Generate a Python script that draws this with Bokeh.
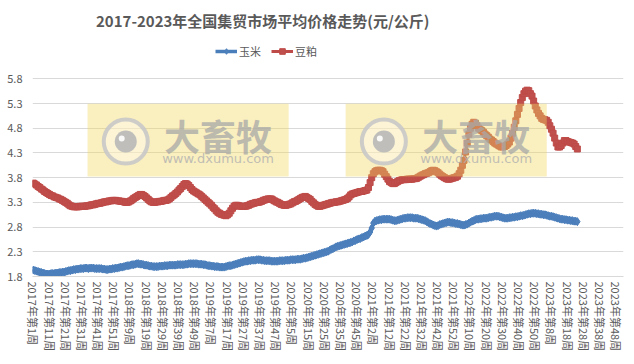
from bokeh.plotting import figure
from bokeh.models import Range1d, FixedTicker, Label, Legend, LegendItem
from bokeh.core.properties import value
from bokeh.embed import file_html
from bokeh.resources import INLINE

# ---------------- data ----------------
title_text = "2017-2023年全国集贸市场平均价格走势(元/公斤)"
series_names = ["玉米", "豆粕"]
weeks_per_year = [(2017, 52), (2018, 52), (2019, 52), (2020, 53), (2021, 52), (2022, 52), (2023, 52)]
categories = [f"{y}年第{w}周" for y, n in weeks_per_year for w in range(1, n + 1)]
y_ticks = [1.8, 2.3, 2.8, 3.3, 3.8, 4.3, 4.8, 5.3, 5.8]

corn_2017 = [1.93, 1.92, 1.91, 1.90, 1.89, 1.88, 1.87, 1.86, 1.85, 1.85, 1.85, 1.86, 1.86, 1.86, 1.87, 1.87,
             1.88, 1.88, 1.89, 1.89, 1.90, 1.91, 1.92, 1.92, 1.93, 1.94, 1.94, 1.95, 1.95, 1.96, 1.96, 1.96,
             1.97, 1.97, 1.96, 1.97, 1.97, 1.97, 1.96, 1.96, 1.96, 1.96, 1.96, 1.95, 1.95, 1.94, 1.94, 1.95,
             1.95, 1.96, 1.96, 1.97]
corn_2018 = [1.97, 1.98, 1.99, 1.99, 2.00, 2.01, 2.02, 2.02, 2.03, 2.04, 2.04, 2.05, 2.06, 2.06, 2.05, 2.05,
             2.04, 2.03, 2.03, 2.02, 2.01, 2.01, 2.00, 2.00, 2.00, 2.00, 2.01, 2.01, 2.01, 2.02, 2.02, 2.02,
             2.03, 2.03, 2.03, 2.03, 2.03, 2.04, 2.04, 2.04, 2.04, 2.04, 2.05, 2.05, 2.06, 2.06, 2.06, 2.06,
             2.06, 2.06, 2.05, 2.05]
corn_2019 = [2.05, 2.04, 2.04, 2.03, 2.02, 2.02, 2.01, 2.01, 2.00, 2.00, 2.00, 1.99, 1.99, 1.99, 1.99, 2.00,
             2.01, 2.02, 2.02, 2.03, 2.04, 2.05, 2.06, 2.07, 2.08, 2.09, 2.10, 2.11, 2.11, 2.12, 2.12, 2.13,
             2.13, 2.13, 2.14, 2.14, 2.14, 2.13, 2.13, 2.12, 2.12, 2.12, 2.12, 2.11, 2.11, 2.11, 2.11, 2.11,
             2.12, 2.12, 2.12, 2.12]
corn_2020 = [2.13, 2.13, 2.13, 2.14, 2.14, 2.14, 2.14, 2.15, 2.15, 2.15, 2.16, 2.17, 2.17, 2.18, 2.19, 2.20,
             2.21, 2.22, 2.23, 2.24, 2.25, 2.26, 2.27, 2.28, 2.29, 2.30, 2.31, 2.33, 2.35, 2.36, 2.38, 2.40,
             2.41, 2.42, 2.43, 2.44, 2.45, 2.46, 2.47, 2.48, 2.49, 2.50, 2.52, 2.53, 2.55, 2.56, 2.57, 2.59,
             2.60, 2.62, 2.63, 2.65, 2.70]
corn_2021 = [2.78, 2.88, 2.92, 2.93, 2.94, 2.95, 2.95, 2.96, 2.96, 2.96, 2.96, 2.96, 2.95, 2.94, 2.93, 2.93,
             2.94, 2.95, 2.96, 2.97, 2.98, 2.98, 2.99, 2.99, 2.99, 2.99, 2.98, 2.98, 2.98, 2.97, 2.96, 2.95,
             2.94, 2.93, 2.91, 2.89, 2.87, 2.86, 2.84, 2.83, 2.82, 2.83, 2.85, 2.86, 2.87, 2.88, 2.89, 2.90,
             2.90, 2.89, 2.89, 2.88]
corn_2022 = [2.87, 2.87, 2.86, 2.85, 2.84, 2.84, 2.85, 2.86, 2.88, 2.90, 2.92, 2.93, 2.95, 2.96, 2.96, 2.97,
             2.97, 2.98, 2.98, 2.98, 2.99, 3.00, 3.00, 3.01, 3.02, 3.02, 3.02, 3.01, 3.00, 2.99, 2.98, 2.98,
             2.98, 2.99, 2.99, 3.00, 3.00, 3.01, 3.01, 3.02, 3.03, 3.03, 3.04, 3.05, 3.06, 3.07, 3.07, 3.08,
             3.08, 3.08, 3.07, 3.07]
corn_2023 = [3.06, 3.06, 3.05, 3.05, 3.04, 3.03, 3.02, 3.02, 3.01, 3.00, 2.99, 2.98, 2.97, 2.96, 2.96, 2.95,
             2.95, 2.94, 2.94, 2.93, 2.93, 2.92, 2.92, 2.91]

soy_2017 = [3.69, 3.67, 3.65, 3.62, 3.60, 3.57, 3.55, 3.52, 3.50, 3.48, 3.46, 3.44, 3.43, 3.41, 3.40, 3.39,
            3.37, 3.36, 3.34, 3.32, 3.30, 3.28, 3.25, 3.23, 3.22, 3.21, 3.21, 3.21, 3.21, 3.22, 3.22, 3.22,
            3.22, 3.23, 3.23, 3.24, 3.25, 3.25, 3.26, 3.27, 3.28, 3.28, 3.29, 3.30, 3.31, 3.31, 3.32, 3.33,
            3.33, 3.34, 3.34, 3.34]
soy_2018 = [3.33, 3.33, 3.32, 3.32, 3.31, 3.30, 3.30, 3.31, 3.33, 3.35, 3.38, 3.40, 3.42, 3.44, 3.46, 3.46,
            3.44, 3.42, 3.39, 3.36, 3.33, 3.31, 3.30, 3.30, 3.31, 3.31, 3.32, 3.32, 3.33, 3.34, 3.34, 3.35,
            3.37, 3.40, 3.43, 3.45, 3.48, 3.51, 3.55, 3.58, 3.62, 3.66, 3.68, 3.67, 3.64, 3.60, 3.56, 3.53,
            3.51, 3.49, 3.47, 3.45]
soy_2019 = [3.42, 3.39, 3.36, 3.33, 3.30, 3.27, 3.24, 3.20, 3.17, 3.13, 3.10, 3.08, 3.06, 3.05, 3.04, 3.03,
            3.05, 3.08, 3.13, 3.18, 3.22, 3.24, 3.24, 3.23, 3.22, 3.22, 3.22, 3.22, 3.23, 3.24, 3.26, 3.27,
            3.28, 3.29, 3.30, 3.30, 3.31, 3.32, 3.34, 3.35, 3.36, 3.37, 3.37, 3.37, 3.35, 3.33, 3.31, 3.30,
            3.28, 3.26, 3.25, 3.24]
soy_2020 = [3.24, 3.25, 3.26, 3.27, 3.29, 3.31, 3.32, 3.34, 3.36, 3.38, 3.40, 3.41, 3.42, 3.40, 3.38, 3.36,
            3.32, 3.29, 3.26, 3.24, 3.22, 3.22, 3.23, 3.24, 3.25, 3.26, 3.27, 3.28, 3.29, 3.30, 3.30, 3.31,
            3.31, 3.32, 3.33, 3.34, 3.35, 3.36, 3.38, 3.41, 3.45, 3.47, 3.48, 3.49, 3.50, 3.51, 3.52, 3.52,
            3.53, 3.54, 3.55, 3.60, 3.70]
soy_2021 = [3.80, 3.88, 3.92, 3.94, 3.95, 3.95, 3.94, 3.92, 3.87, 3.82, 3.77, 3.72, 3.70, 3.68, 3.68, 3.70,
            3.72, 3.74, 3.75, 3.76, 3.76, 3.76, 3.77, 3.77, 3.77, 3.77, 3.78, 3.78, 3.79, 3.81, 3.83, 3.85,
            3.86, 3.88, 3.89, 3.90, 3.92, 3.94, 3.95, 3.94, 3.92, 3.90, 3.87, 3.84, 3.82, 3.80, 3.78, 3.77,
            3.77, 3.78, 3.79, 3.80]
soy_2022 = [3.81, 3.83, 3.88, 3.95, 4.05, 4.15, 4.32, 4.50, 4.68, 4.80, 4.88, 4.92, 4.90, 4.85, 4.80, 4.77,
            4.75, 4.72, 4.68, 4.65, 4.62, 4.58, 4.56, 4.53, 4.50, 4.48, 4.46, 4.44, 4.42, 4.42, 4.43, 4.45,
            4.48, 4.52, 4.60, 4.70, 4.82, 4.95, 5.08, 5.20, 5.32, 5.42, 5.50, 5.55, 5.57, 5.56, 5.50, 5.45,
            5.35, 5.25, 5.17, 5.10]
soy_2023 = [5.05, 5.00, 4.98, 4.97, 4.96, 4.92, 4.85, 4.78, 4.70, 4.60, 4.50, 4.42, 4.42, 4.45, 4.50, 4.55,
            4.55, 4.53, 4.52, 4.51, 4.50, 4.48, 4.43, 4.38]

corn = corn_2017 + corn_2018 + corn_2019 + corn_2020 + corn_2021 + corn_2022 + corn_2023
soy = soy_2017 + soy_2018 + soy_2019 + soy_2020 + soy_2021 + soy_2022 + soy_2023
x_corn = list(range(len(corn)))
x_soy = list(range(len(soy)))

# ---------------- styles / layout ----------------
FONT = "Noto Sans CJK SC"
TXT = "#595959"
GRID = "#D9D9D9"
BLUE, BLUE_EDGE = "#4F81BD", "#4A7EBB"
RED, RED_EDGE = "#C0504D", "#BE4B48"
W, H = 634, 364
FRAME_H = 276          # frame spans from the top of the canvas down to the 1.8 gridline
PLOT_H = 197.7         # pixel height between 1.8 and 5.8
y_top = y_ticks[0] + (y_ticks[-1] - y_ticks[0]) * FRAME_H / PLOT_H

p = figure(width=W, height=H, output_backend="svg", toolbar_location=None,
           x_range=Range1d(-0.5, len(categories) - 0.5), y_range=Range1d(y_ticks[0], y_top),
           min_border_left=32, min_border_right=11, min_border_top=0, min_border_bottom=H - FRAME_H)
p.outline_line_color = None
p.background_fill_color = "white"
p.border_fill_color = "white"

tick_idx = list(range(0, len(categories), 10))
p.xaxis.ticker = FixedTicker(ticks=tick_idx)
p.xaxis.major_label_overrides = {i: categories[i] for i in tick_idx}
p.xaxis.major_label_orientation = "vertical"
p.xaxis.axis_line_color = GRID
p.xaxis.major_tick_line_color = None
p.xaxis.minor_tick_line_color = None
p.xaxis.major_tick_out = 0
p.xaxis.major_label_standoff = 5
p.xaxis.major_label_text_font = FONT
p.xaxis.major_label_text_font_size = "11px"
p.xaxis.major_label_text_color = TXT

p.yaxis.ticker = FixedTicker(ticks=y_ticks)
p.yaxis.axis_line_color = None
p.yaxis.major_tick_line_color = None
p.yaxis.minor_tick_line_color = None
p.yaxis.major_tick_out = 0
p.yaxis.major_label_standoff = 10
p.yaxis.major_label_text_font = FONT
p.yaxis.major_label_text_font_size = "11px"
p.yaxis.major_label_text_color = TXT

p.xgrid.grid_line_color = None
p.ygrid.grid_line_color = GRID
p.ygrid.ticker = FixedTicker(ticks=y_ticks)

cl = p.line(x_corn, corn, line_width=3.5, color=BLUE_EDGE)
cs = p.scatter(x_corn, corn, marker="diamond", size=8, fill_color=BLUE, line_color=BLUE_EDGE)
sl = p.line(x_soy, soy, line_width=3, color=RED_EDGE)
ss = p.scatter(x_soy, soy, marker="square", size=6, fill_color=RED, line_color=RED_EDGE)

# watermark (decorative overlay)
for cx in (95.6, 255.0):
    p.rect(x=cx, y=4.56, width=124.2, height=1.475, fill_color="#F2D65E", fill_alpha=0.40, line_color=None)
    p.circle(x=cx - 38.5, y=4.53, radius=22, radius_units="screen", fill_color="white", fill_alpha=0.35,
             line_color="#C8C8C8", line_width=4, line_alpha=0.9)
    p.circle(x=cx - 38.5, y=4.53, radius=11, radius_units="screen", fill_color="#B8B8B8", fill_alpha=0.9,
             line_color=None)
    p.circle(x=cx - 41.0, y=4.59, radius=3, radius_units="screen", fill_color="white", fill_alpha=0.9,
             line_color=None)
    p.text(x=[cx + 18.5], y=[4.66], text=["大畜牧"], text_font=value(FONT), text_font_style="bold",
           text_font_size="36px", text_color="#A8A8A8", text_alpha=0.75, text_align="center",
           text_baseline="middle")
    p.text(x=[cx + 18.5], y=[4.19], text=["www.dxumu.com"], text_font=value("DejaVu Sans"),
           text_font_size="13px", text_color="#B0B0B0", text_alpha=0.8, text_align="center",
           text_baseline="middle")

# title (inside the extended frame, above the 5.8 gridline)
p.add_layout(Label(x=141.7, y=6.98, text=title_text, text_align="center", text_baseline="middle",
                   text_font=FONT, text_font_style="bold", text_font_size="15px", text_color=TXT))

# legend
legend = Legend(items=[LegendItem(label=series_names[0], renderers=[cl, cs]),
                       LegendItem(label=series_names[1], renderers=[sl, ss])],
                location=(183, 217), orientation="horizontal", border_line_alpha=0,
                background_fill_alpha=0, padding=0, margin=0, spacing=10, glyph_width=22,
                glyph_height=14, label_standoff=2, label_height=14, label_text_font=FONT,
                label_text_font_size="11px", label_text_color=TXT)
p.add_layout(legend)

open("out.html", "w").write(file_html(p, INLINE))
